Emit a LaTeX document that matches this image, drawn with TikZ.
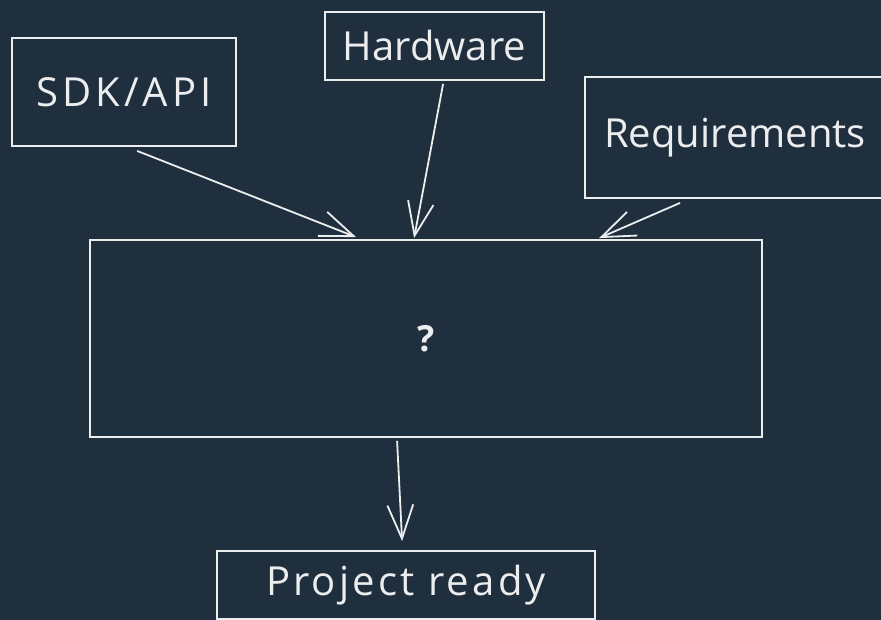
\documentclass[tikz,border=0pt]{standalone}
\usepackage{fontspec}
\setmainfont{Open Sans}
\usetikzlibrary{arrows.meta,calc}

\definecolor{board}{HTML}{1F2F3D}
\definecolor{chalk}{HTML}{ECEDEE}

\tikzset{
  labelfont/.style={font=\fontsize{40}{44}\selectfont},
  sketchbox/.style={draw=chalk, line width=1.8pt, rectangle, inner sep=0pt,
    text=chalk, labelfont},
  link/.style={draw=chalk, line width=1.8pt,
    -{Straight Barb[angle=42:36pt, line width=1.8pt]}},
}

\begin{document}
\begin{tikzpicture}[x=1pt,y=-1pt]
  % board
  \fill[board] (0,0) rectangle (881,620);
  \useasboundingbox (0,0) rectangle (881,620);

  % boxes
  \node[sketchbox, minimum width=224pt, minimum height=108pt] (sdk) at (124,92)
    {\addfontfeatures{LetterSpace=10}SDK/API};
  \node[sketchbox, minimum width=219pt, minimum height=68pt]  (hw)  at (434.5,46) {Hardware};
  \node[sketchbox, minimum width=300pt, minimum height=121pt] (req) at (735,137.5) {};
  \node[text=chalk, labelfont] (reqtext) at (735,138) {Requirements};
  \node[sketchbox, minimum width=672pt, minimum height=197pt] (mid) at (426,338.5)
    {\fontsize{36}{40}\selectfont\bfseries ?};
  \node[sketchbox, minimum width=378pt, minimum height=68pt]  (proj) at (406,585)
    {\addfontfeatures{LetterSpace=8}Project ready};

  % connectors
  \draw[link] ($(sdk.south west)+(126,4)$) -- ($(mid.north west)+(267,-2)$);
  \draw[link] ($(hw.south west)+(119,3)$) -- ($(mid.north west)+(325,-1)$);
  \draw[link] ($(req.south west)+(96,4)$) -- ($(mid.north west)+(510,-1)$);
  \draw[link] ($(mid.south west)+(308,3)$) -- ($(proj.north west)+(186,-9)$);
\end{tikzpicture}
\end{document}
